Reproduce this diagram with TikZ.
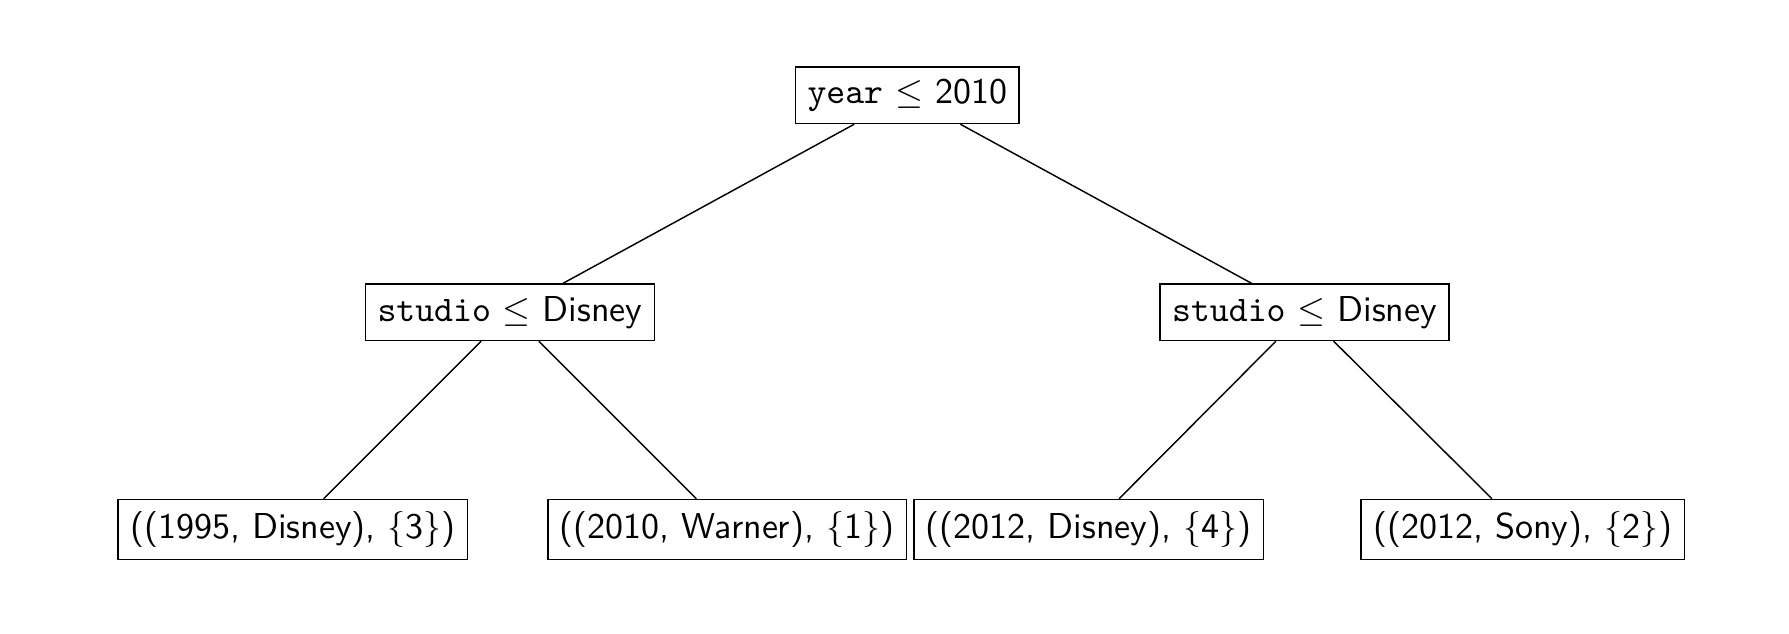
\documentclass[tikz,border=0pt]{standalone}
\usepackage{amssymb,amsmath}
\usepackage{tikz}
\tikzset{treebox/.style={draw, font=\sffamily}}

\begin{document}
\begin{tikzpicture}[scale=1]
\useasboundingbox (-8.86,-5.26) rectangle (8.61,0.93);
\node[treebox] (r) at (0,0) {\texttt{year} $\leq$ 2010};
\node[treebox] (sl) at (-3.88,-2.12) {\texttt{studio} $\leq$ Disney};
\node[treebox] (sr) at (3.88,-2.12) {\texttt{studio} $\leq$ Disney};
\node[treebox] (l1) at (-6.0,-4.24) {((1995, Disney), $\{$3$\}$)};
\node[treebox] (l2) at (-1.76,-4.24) {((2010, Warner), $\{$1$\}$)};
\node[treebox] (l3) at (1.77,-4.24) {((2012, Disney), $\{$4$\}$)};
\node[treebox] (l4) at (6.01,-4.24) {((2012, Sony), $\{$2$\}$)};
\draw (r)--(sl);
\draw (r)--(sr);
\draw (sl)--(l1);
\draw (sl)--(l2);
\draw (sr)--(l3);
\draw (sr)--(l4);
\end{tikzpicture}
\end{document}
